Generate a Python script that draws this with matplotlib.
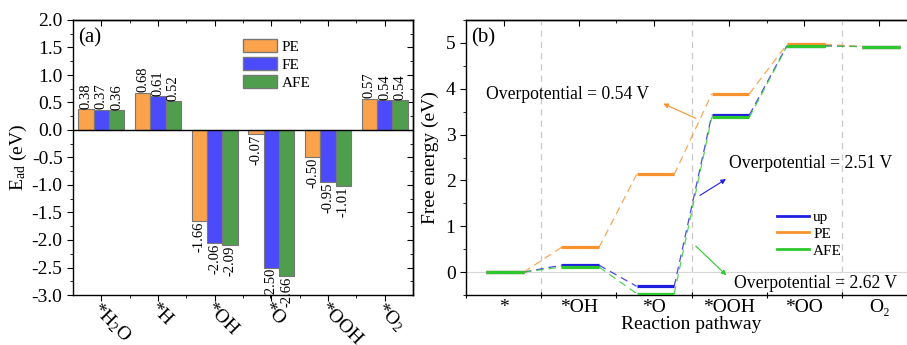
import matplotlib
matplotlib.use("Agg")
import numpy as np
import matplotlib.pyplot as plt
import matplotlib.transforms as mtransforms
from matplotlib.patches import Patch
from matplotlib.lines import Line2D

plt.rcParams['font.family'] = ['Liberation Serif', 'DejaVu Serif']
plt.rcParams['mathtext.fontset'] = 'custom'
plt.rcParams['mathtext.rm'] = 'Liberation Serif'
plt.rcParams['mathtext.it'] = 'Liberation Serif:italic'
plt.rcParams['axes.linewidth'] = 1.0

# ---------------- data: (a) adsorption energies ----------------
species = ['*H$_2$O', '*H', '*OH', '*O', '*OOH', '*O$_2$']
ead_pe = [0.38, 0.68, -1.66, -0.07, -0.50, 0.57]
ead_fe = [0.37, 0.61, -2.06, -2.50, -0.95, 0.54]
ead_afe = [0.36, 0.52, -2.09, -2.66, -1.01, 0.54]

# ---------------- data: (b) free energy diagram ----------------
steps = ['*', '*OH', '*O', '*OOH', '*OO', 'O\u2082']
g_up = [0.0, 0.15, -0.31, 3.43, 4.94, 4.92]
g_pe = [0.0, 0.54, 2.13, 3.89, 4.97, 4.92]
g_afe = [0.0, 0.11, -0.47, 3.38, 4.93, 4.92]

bar_colors = {'PE': '#FBA24C', 'FE': '#4B4BFB', 'AFE': '#4E9E4E'}
line_colors = {'up': '#1F1FE0', 'PE': '#F7922E', 'AFE': '#2DC82D'}

W, H = 907, 345
fig = plt.figure(figsize=(W / 100, H / 100), dpi=100)

# ---------------- panel (a) ----------------
ax1 = fig.add_axes([73 / W, 50 / H, 340 / W, 275 / H])
x = np.arange(len(species))
bw = 0.27
for k, (name, vals) in enumerate([('PE', ead_pe), ('FE', ead_fe), ('AFE', ead_afe)]):
    xs = x + (k - 1) * bw
    ax1.bar(xs, vals, bw, color=bar_colors[name], edgecolor='#777777', linewidth=0.8, label=name, zorder=2)
    for xi, v in zip(xs, vals):
        if v >= 0:
            ax1.text(xi, v + 0.01, f'{v:.2f}', rotation=90, ha='center', va='bottom', fontsize=10.5)
        else:
            ax1.text(xi, v - 0.01, f'{v:.2f}', rotation=90, ha='center', va='top', fontsize=10.5)

ax1.axhline(0, color='black', linewidth=1.0, zorder=3)
ax1.set_xlim(-0.5, 5.5)
ax1.set_ylim(-3.0, 2.0)
ax1.set_yticks(np.arange(-3.0, 2.01, 0.5))
ax1.set_yticklabels([f'{t:.1f}' for t in np.arange(-3.0, 2.01, 0.5)])
ax1.set_yticks(np.arange(-3.0, 2.01, 0.25), minor=True)
ax1.set_xticks(x)
ax1.set_xticks(x[:-1] + 0.5, minor=True)
ax1.set_xticklabels(species, rotation=-45, ha='left', va='center', rotation_mode='anchor', fontsize=14)
ax1.tick_params(axis='both', which='major', direction='out', length=4, labelsize=14)
ax1.tick_params(axis='both', which='minor', direction='out', length=2)
ax1.tick_params(axis='x', pad=7)
# nudge the slanted labels up-left, closer to their ticks
shift = mtransforms.ScaledTranslation(-6 / 100, 4 / 100, fig.dpi_scale_trans)
for lab in ax1.get_xticklabels():
    lab.set_transform(lab.get_transform() + shift)
ax1.set_ylabel('E$_\\mathrm{ad}$ (eV)', fontsize=14, labelpad=2)

sec_top = ax1.secondary_xaxis('top')
sec_top.set_xticks(x)
sec_top.set_xticks(x[:-1] + 0.5, minor=True)
sec_top.tick_params(which='major', direction='in', length=4, labeltop=False)
sec_top.tick_params(which='minor', direction='in', length=2)
sec_right = ax1.secondary_yaxis('right')
sec_right.set_yticks(np.arange(-3.0, 2.01, 0.5))
sec_right.set_yticks(np.arange(-3.0, 2.01, 0.25), minor=True)
sec_right.tick_params(which='major', direction='in', length=4, labelright=False)
sec_right.tick_params(which='minor', direction='in', length=2)

ax1.text(0.015, 0.97, '(a)', transform=ax1.transAxes, fontsize=15, va='top', ha='left')
ax1.legend(handles=[Patch(facecolor=bar_colors[n], edgecolor='#777777', label=n) for n in ['PE', 'FE', 'AFE']],
           loc='upper left', bbox_to_anchor=(0.47, 0.97), frameon=False, fontsize=11,
           handlelength=2.2, handleheight=0.95, labelspacing=0.2, handletextpad=0.3, borderaxespad=0.3)

# ---------------- panel (b) ----------------
ax2 = fig.add_axes([466 / W, 50 / H, 451 / W, 275 / H])
half = 0.25
for name, g in [('up', g_up), ('PE', g_pe), ('AFE', g_afe)]:
    c = line_colors[name]
    for i, v in enumerate(g):
        ax2.plot([i - half + 0.02, i + half + 0.02], [v, v], color=c, linewidth=2.3, solid_capstyle='butt', zorder=3)
    for i in range(len(g) - 1):
        ax2.plot([i + half + 0.02, i + 1 - half + 0.02], [g[i], g[i + 1]], color=c, linewidth=0.9,
                 linestyle=(0, (6, 4)), alpha=0.8, zorder=2)

for xv in [0.5, 2.5, 4.5]:
    ax2.axvline(xv, color='#C8C8C8', linestyle=(0, (5, 4)), linewidth=0.9, zorder=1)
ax2.axhline(0, color='#D8D8D8', linewidth=0.8, zorder=1)

ax2.set_xlim(-0.5, 5.5)
ax2.set_ylim(-0.5, 5.5)
ax2.set_yticks(range(0, 6))
ax2.set_yticks(np.arange(-0.5, 5.51, 0.5), minor=True)
# bottom: ticks sit between the steps, labels at the steps
ax2.set_xticks(np.arange(-0.5, 5.0, 1.0))
ax2.set_xticklabels([])
ax2.set_xticks(range(len(steps)), minor=True)
ax2.set_xticklabels(steps, minor=True, fontsize=14, va='baseline')
ax2.tick_params(axis='y', which='major', direction='out', length=4, labelsize=14)
ax2.tick_params(axis='y', which='minor', direction='out', length=2)
ax2.tick_params(axis='x', which='major', direction='inout', length=4)
ax2.tick_params(axis='x', which='minor', length=0, pad=12.2, labelsize=14)
ax2.set_xlabel('Reaction pathway', fontsize=14, labelpad=0)
ax2.set_ylabel('Free energy (eV)', fontsize=14, labelpad=5)
sec_top2 = ax2.secondary_xaxis('top')
sec_top2.set_xticks(range(len(steps)))
sec_top2.set_xticks(np.arange(0.5, 5.0, 1.0), minor=True)
sec_top2.tick_params(which='major', direction='in', length=4, labeltop=False)
sec_top2.tick_params(which='minor', direction='in', length=2)

ax2.text(0.012, 0.97, '(b)', transform=ax2.transAxes, fontsize=15, va='top', ha='left')

arrow = dict(arrowstyle='-|>', linewidth=0.8, mutation_scale=7)
ax2.annotate('', xy=(2.09, 3.70), xytext=(2.59, 3.33), arrowprops=dict(arrow, color=line_colors['PE']))
ax2.text(-0.23, 3.87, 'Overpotential = 0.54 V', fontsize=12.7, va='center', ha='left')
ax2.annotate('', xy=(2.99, 2.06), xytext=(2.58, 1.64), arrowprops=dict(arrow, color=line_colors['up']))
ax2.text(3.0, 2.36, 'Overpotential = 2.51 V', fontsize=12.7, va='center', ha='left')
ax2.annotate('', xy=(2.99, -0.11), xytext=(2.53, 0.61), arrowprops=dict(arrow, color=line_colors['AFE']))
ax2.text(3.07, -0.24, 'Overpotential = 2.62 V', fontsize=12.7, va='center', ha='left')

ax2.legend(handles=[Line2D([], [], color=line_colors[n], linewidth=2, label=n) for n in ['up', 'PE', 'AFE']],
           loc='upper left', bbox_to_anchor=(0.675, 0.33), frameon=False, fontsize=11,
           handlelength=2.1, labelspacing=0.2, handletextpad=0.3, borderaxespad=0.0)

fig.savefig('out.png', dpi=100)
